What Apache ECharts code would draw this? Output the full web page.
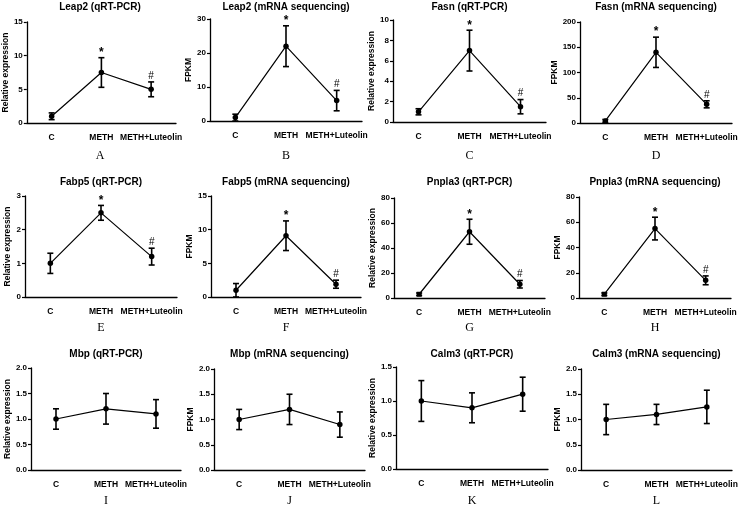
<!DOCTYPE html>
<html>
<head>
<meta charset="utf-8">
<script src="https://cdn.jsdelivr.net/npm/echarts@6/dist/echarts.min.js"></script>
<style>
  html, body { margin: 0; padding: 0; background: #fff; }
  #chart { width: 743px; height: 505px; }
</style>
</head>
<body>
<div id="chart"></div>
<script>
// Twelve small line+error-bar panels, one grid each

const categories = ["C", "METH", "METH+Luteolin"];

const panelTitles = [
    "Leap2 (qRT-PCR)", "Leap2 (mRNA sequencing)", "Fasn (qRT-PCR)", "Fasn (mRNA sequencing)",
    "Fabp5 (qRT-PCR)", "Fabp5 (mRNA sequencing)", "Pnpla3 (qRT-PCR)", "Pnpla3 (mRNA sequencing)",
    "Mbp (qRT-PCR)", "Mbp (mRNA sequencing)", "Calm3 (qRT-PCR)", "Calm3 (mRNA sequencing)",
];
const panelLetters = ["A", "B", "C", "D", "E", "F", "G", "H", "I", "J", "K", "L"];
const yNames = [
    "Relative expression", "FPKM", "Relative expression", "FPKM",
    "Relative expression", "FPKM", "Relative expression", "FPKM",
    "Relative expression", "FPKM", "Relative expression", "FPKM",
];
const yMax = [15, 30, 10, 200, 3, 15, 80, 80, 2.0, 2.0, 1.5, 2.0];
const yInterval = [5, 10, 2, 50, 1, 5, 20, 20, 0.5, 0.5, 0.5, 0.5];

// group means (C, METH, METH+Luteolin)
const means = [
    [1.0, 7.5, 5.0],
    [1, 22, 6],
    [1.0, 7.0, 1.5],
    [4, 140, 37],
    [1.0, 2.5, 1.2],
    [1.0, 9.1, 1.9],
    [3, 53, 11],
    [3, 55, 14],
    [1.0, 1.2, 1.1],
    [1.0, 1.2, 0.9],
    [1.0, 0.9, 1.1],
    [1.0, 1.1, 1.25],
];
// error bar half-widths
const errors = [
    [0.5, 2.2, 1.1],
    [1, 6, 3],
    [0.3, 2.0, 0.7],
    [3, 30, 7],
    [0.3, 0.22, 0.25],
    [1, 2.2, 0.6],
    [1, 10, 3],
    [1, 9, 3.5],
    [0.2, 0.3, 0.28],
    [0.2, 0.3, 0.25],
    [0.3, 0.22, 0.25],
    [0.3, 0.2, 0.33],
];
const sigMarks = [
    ["", "*", "#"], ["", "*", "#"], ["", "*", "#"], ["", "*", "#"],
    ["", "*", "#"], ["", "*", "#"], ["", "*", "#"], ["", "*", "#"],
    ["", "", ""], ["", "", ""], ["", "", ""], ["", "", ""],
];
// panels whose control point is drawn as a square
const squareControl = [false, false, false, false, false, false, true, true, false, false, false, false];

// layout: [left, top, width, height] of each plot area, plus y-name gap
const boxes = [
    [24, 22, 152, 101], [210, 19, 152, 102], [393, 20, 153, 102], [580, 22, 152, 101],
    [25, 196, 152, 101], [211, 196, 150, 101], [394, 198, 151, 100], [579, 197, 152, 101],
    [31, 368, 150, 102], [214, 369, 151, 101], [396, 367, 152, 102], [581, 369, 151, 101],
];
const nameGaps = [12, 15, 13, 17, 11, 16, 13, 13, 16, 17, 16, 16];
const titleRowY = [7, 182, 354];
const letterRowY = [156, 328, 501];

const FONT = '"Liberation Sans", Arial, sans-serif';

function errorRenderer(p) {
    return function (params, api) {
        const i = api.value(0);
        const lo = api.coord([i, api.value(1)]);
        const hi = api.coord([i, api.value(2)]);
        const cap = 3;
        const stroke = { stroke: "#000", lineWidth: 1.6 };
        const children = [
            { type: "line", shape: { x1: lo[0], y1: lo[1], x2: hi[0], y2: hi[1] }, style: stroke },
            { type: "line", shape: { x1: lo[0] - cap, y1: lo[1], x2: lo[0] + cap, y2: lo[1] }, style: stroke },
            { type: "line", shape: { x1: hi[0] - cap, y1: hi[1], x2: hi[0] + cap, y2: hi[1] }, style: stroke },
        ];
        const mark = sigMarks[p][params.dataIndex];
        if (mark) {
            children.push({
                type: "text",
                style: {
                    text: mark,
                    x: hi[0],
                    y: hi[1] - (mark === "*" ? -1 : 1),
                    align: "center",
                    verticalAlign: "bottom",
                    font: (mark === "*" ? "bold 12px " : "10px ") + FONT,
                    fill: "#000",
                },
            });
        }
        return { type: "group", children };
    };
}

const grid = [], xAxis = [], yAxis = [], series = [], graphic = [];

boxes.forEach((b, p) => {
    const [left, top, width, height] = b;
    grid.push({ left, top, width, height, containLabel: false });
    xAxis.push({
        type: "category",
        gridIndex: p,
        data: categories,
        boundaryGap: true,
        axisLine: { lineStyle: { color: "#000", width: 1.3 } },
        axisTick: { alignWithLabel: true, length: 3, lineStyle: { color: "#000", width: 1.2 } },
        axisLabel: { color: "#000", fontSize: 8.5, fontWeight: "bold", fontFamily: FONT, margin: 10, interval: 0 },
        splitLine: { show: false },
    });
    yAxis.push({
        type: "value",
        gridIndex: p,
        min: 0,
        max: yMax[p],
        interval: yInterval[p],
        name: yNames[p],
        nameLocation: "middle",
        nameGap: nameGaps[p],
        nameTextStyle: { color: "#000", fontSize: 8.5, fontWeight: "bold", fontFamily: FONT },
        axisLine: { show: true, lineStyle: { color: "#000", width: 1.3 } },
        axisTick: { show: true, length: 3, lineStyle: { color: "#000", width: 1.2 } },
        axisLabel: {
            color: "#000", fontSize: 8, fontWeight: "bold", fontFamily: FONT, margin: 4,
            formatter: (v) => (yInterval[p] < 1 ? v.toFixed(1) : String(v)),
        },
        splitLine: { show: false },
    });
    series.push({
        type: "line",
        xAxisIndex: p,
        yAxisIndex: p,
        data: means[p].map((m, i) =>
            i === 0 && squareControl[p] ? { value: m, symbol: "rect", symbolSize: 5 } : m
        ),
        symbol: "circle",
        symbolSize: 5.5,
        lineStyle: { color: "#000", width: 1.2 },
        itemStyle: { color: "#000" },
        silent: true,
        animation: false,
        z: 3,
    });
    series.push({
        type: "custom",
        xAxisIndex: p,
        yAxisIndex: p,
        data: means[p].map((m, i) => [i, m - errors[p][i], m + errors[p][i]]),
        renderItem: errorRenderer(p),
        silent: true,
        animation: false,
        z: 4,
    });
    const row = Math.floor(p / 4);
    const cx = left + width / 2;
    graphic.push({
        type: "text",
        style: {
            text: panelTitles[p], x: cx, y: titleRowY[row],
            align: "center", verticalAlign: "middle",
            font: "bold 10px " + FONT, fill: "#000",
        },
    });
    graphic.push({
        type: "text",
        style: {
            text: panelLetters[p], x: cx, y: letterRowY[row],
            align: "center", verticalAlign: "middle",
            font: '12px "Liberation Serif", "Times New Roman", serif', fill: "#000",
        },
    });
});

const chart = echarts.init(document.getElementById("chart"), null, { renderer: "canvas" });
chart.setOption({
    backgroundColor: "#fff",
    animation: false,
    grid,
    xAxis,
    yAxis,
    series,
    graphic,
});
</script>
</body>
</html>
